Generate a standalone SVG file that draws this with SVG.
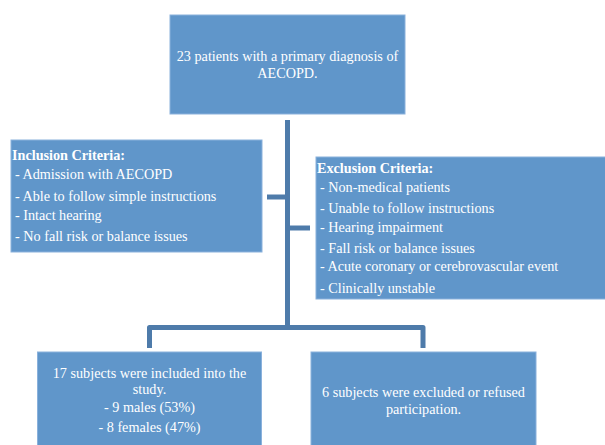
<svg xmlns="http://www.w3.org/2000/svg" width="605" height="445" viewBox="0 0 605 445">
<style>
.box{fill:#6096CA;stroke:#8AB1DC;stroke-width:1}
.t{font-family:"Liberation Serif","Times New Roman",serif;font-size:14.2px;fill:#FFFFFF}
.c{text-anchor:middle}
.b{font-weight:bold}
.conn{fill:none;stroke:#4E7BAA;stroke-width:5;stroke-linejoin:round}
</style>
<rect width="605" height="445" fill="#FFFFFF"/>
<g id="connectors">
<path class="conn" d="M287.5 120 V327.5"/>
<path class="conn" d="M267 197 H287.5"/>
<path class="conn" d="M287.5 228 H310"/>
<path class="conn" d="M149.5 348 V327.5 H423 V348"/>
</g>
<g id="top">
<rect class="box" x="170" y="15" width="235" height="99"/>
<text class="t c"><tspan x="287.5" y="61">23 patients with a primary diagnosis of</tspan><tspan x="287.5" y="77.5">AECOPD.</tspan></text>
</g>
<g id="inclusion">
<rect class="box" x="11" y="140" width="251" height="112"/>
<text class="t b" x="12" y="160">Inclusion Criteria:</text>
<text class="t" x="15" y="179">- Admission with AECOPD</text>
<text class="t" x="15" y="201">- Able to follow simple instructions</text>
<text class="t" x="15" y="220">- Intact hearing</text>
<text class="t" x="15" y="241">- No fall risk or balance issues</text>
</g>
<g id="exclusion">
<rect class="box" x="316" y="157" width="295" height="142"/>
<text class="t b" x="317" y="173">Exclusion Criteria:</text>
<text class="t" x="320" y="192">- Non-medical patients</text>
<text class="t" x="320" y="213">- Unable to follow instructions</text>
<text class="t" x="320" y="232">- Hearing impairment</text>
<text class="t" x="320" y="253">- Fall risk or balance issues</text>
<text class="t" x="320" y="271">- Acute coronary or cerebrovascular event</text>
<text class="t" x="320" y="293">- Clinically unstable</text>
</g>
<g id="included">
<rect class="box" x="37.5" y="352" width="224" height="100"/>
<text class="t c"><tspan x="149.5" y="377.5">17 subjects were included into the</tspan><tspan x="149.5" y="394">study.</tspan></text>
<text class="t c" x="149.5" y="412">- 9 males (53%)</text>
<text class="t c" x="149.5" y="432">- 8 females (47%)</text>
</g>
<g id="excluded">
<rect class="box" x="311" y="352" width="225" height="100"/>
<text class="t c"><tspan x="423.5" y="397">6 subjects were excluded or refused</tspan><tspan x="423.5" y="413.5">participation.</tspan></text>
</g>
</svg>
